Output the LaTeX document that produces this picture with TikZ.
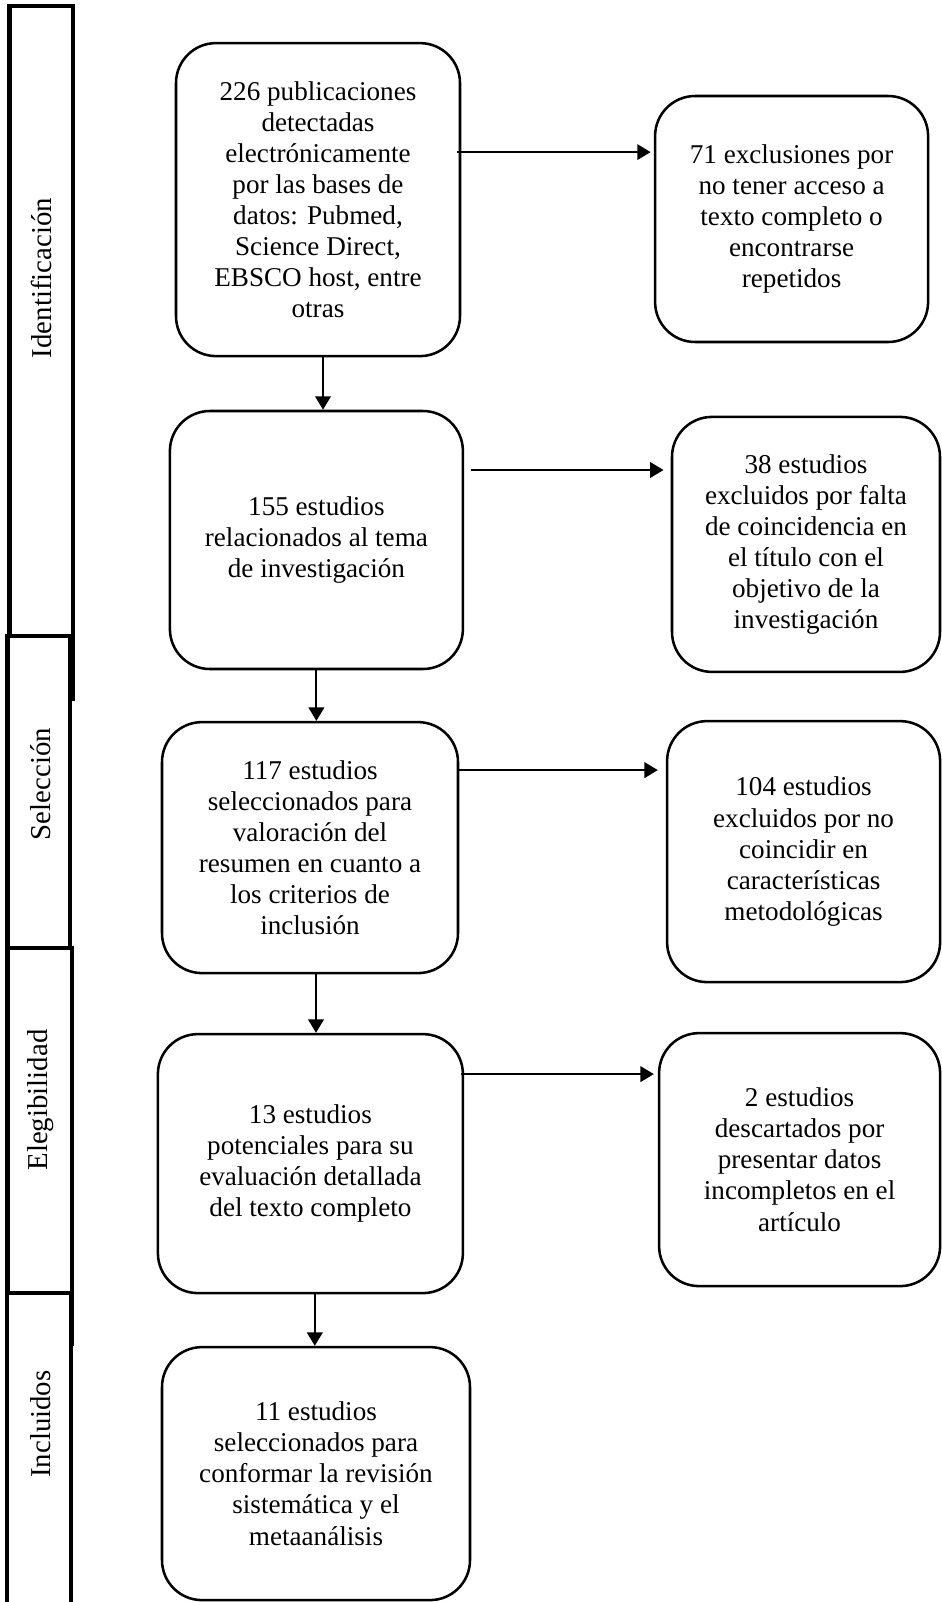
\documentclass[tikz,border=0pt]{standalone}
\usepackage{fontspec}
\setmainfont{Liberation Serif}
\usetikzlibrary{arrows.meta}

\begin{document}
\begin{tikzpicture}[
  caja/.style={draw=black, line width=1.8pt, rounded corners=1cm, align=center, inner sep=0pt, font=\fontsize{19.3}{22.1}\selectfont},
  flecha/.style={line width=1.5pt, -{Triangle[length=9.5pt, width=11pt]}},
  barra/.style={draw=black, fill=white, line width=3.2pt},
  etiqueta/.style={rotate=90, font=\fontsize{20.5}{23}\selectfont}
]
\useasboundingbox (0,0) rectangle (23.55,-40.05);

\draw[barra] (0.2375,-0.15) rectangle (1.825,-17.475);
\draw[barra] (0.1875,-15.9) rectangle (1.75,-25.15);
\draw[barra] (0.1875,-23.7) rectangle (1.8,-33.6);
\draw[barra] (0.175,-32.325) rectangle (1.775,-40.4);
\node[etiqueta] (10) at (1.025,-6.95) {Identificación};
\node[etiqueta] (11) at (1.025,-19.6) {Selección};
\node[etiqueta] (12) at (1.025,-27.5) {Elegibilidad};
\node[etiqueta] (13) at (1.025,-35.6) {Incluidos};

\node[caja, minimum width=7.1cm, minimum height=7.825cm] (1) at (7.95,-4.99) {226 publicaciones\\detectadas\\electrónicamente\\por las bases de\\datos: Pubmed,\\Science Direct,\\EBSCO host, entre\\otras};
\node[caja, minimum width=6.825cm, minimum height=6.15cm] (2) at (19.79,-5.475) {71 exclusiones por\\no tener acceso a\\texto completo o\\encontrarse\\repetidos};
\node[caja, minimum width=7.325cm, minimum height=6.45cm] (3) at (7.91,-13.5) {155 estudios\\relacionados al tema\\de investigación};
\node[caja, minimum width=6.7cm, minimum height=6.375cm] (4) at (20.15,-13.61) {38 estudios\\excluidos por falta\\de coincidencia en\\el título con el\\objetivo de la\\investigación};
\node[caja, minimum width=7.4cm, minimum height=6.275cm] (5) at (7.75,-21.19) {117 estudios\\seleccionados para\\valoración del\\resumen en cuanto a\\los criterios de\\inclusión};
\node[caja, minimum width=6.825cm, minimum height=6.525cm] (6) at (20.09,-21.29) {104 estudios\\excluidos por no\\coincidir en\\características\\metodológicas};
\node[caja, minimum width=7.625cm, minimum height=6.475cm] (7) at (7.76,-29.09) {13 estudios\\potenciales para su\\evaluación detallada\\del texto completo};
\node[caja, minimum width=7.025cm, minimum height=6.325cm] (8) at (19.99,-28.99) {2 estudios\\descartados por\\presentar datos\\incompletos en el\\artículo};
\node[caja, minimum width=7.7cm, minimum height=6.325cm] (9) at (7.9,-36.84) {11 estudios\\seleccionados para\\conformar la revisión\\sistemática y el\\metaanálisis};

\draw[flecha, shorten >=0.08cm] ([xshift=-0.1cm, yshift=1.1875cm]1.east) -- ([yshift=1.1875cm]1.east -| 2.west);
\draw[flecha, shorten >=0.18cm] ([xshift=0.175cm, yshift=1.75cm]3.east) -- ([yshift=1.75cm]3.east -| 4.west);
\draw[flecha, shorten >=0.2cm] ([yshift=1.9375cm]5.east) -- ([yshift=1.9375cm]5.east -| 6.west);
\draw[flecha, shorten >=0.1cm] ([xshift=-0.075cm, yshift=2.2375cm]7.east) -- ([yshift=2.2375cm]7.east -| 8.west);

\draw[flecha] ([xshift=0.125cm]1.south) -- ([xshift=0.125cm]1.south |- 3.north);
\draw[flecha] (3.south) -- (3.south |- 5.north);
\draw[flecha] ([xshift=0.15cm]5.south) -- ([xshift=0.15cm]5.south |- 7.north);
\draw[flecha] ([xshift=0.11cm]7.south) -- ([xshift=0.11cm]7.south |- 9.north);
\end{tikzpicture}
\end{document}
